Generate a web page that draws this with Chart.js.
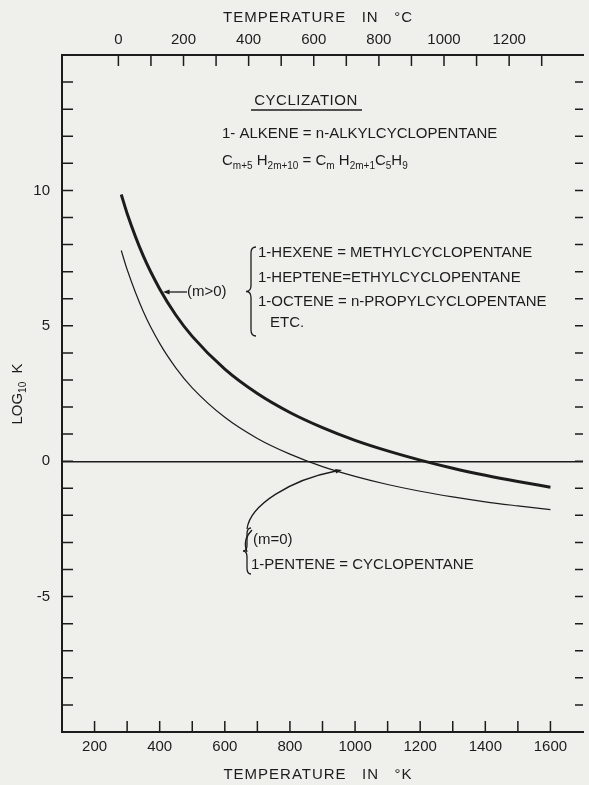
<!DOCTYPE html>
<html>
<head>
<meta charset="utf-8">
<script src="https://cdn.jsdelivr.net/npm/chart.js@4.4.1/dist/chart.umd.min.js"></script>
<style>
    html, body { margin: 0; padding: 0; background: #efefec; overflow: hidden; }
    #wrap { width: 589px; height: 785px; position: relative; }
</style>
</head>
<body>
<div id="wrap"><canvas id="cyclChart" width="589" height="785"></canvas></div>
<script>
// ====== Data ======
const tempK = [282, 300, 350, 400, 450, 500, 600, 700, 800, 900, 1000, 1100, 1200, 1300, 1400, 1500, 1600];
// (m>0)  1-hexene = methylcyclopentane, etc.  (heavy curve)
const logKAlkyl = [9.85, 9.15, 7.57, 6.36, 5.39, 4.61, 3.40, 2.50, 1.80, 1.24, 0.77, 0.38, 0.04, -0.26, -0.52, -0.75, -0.96];
// (m=0)  1-pentene = cyclopentane  (light curve)
const logKPentene = [7.78, 7.08, 5.52, 4.35, 3.44, 2.71, 1.62, 0.84, 0.26, -0.20, -0.56, -0.86, -1.11, -1.32, -1.50, -1.65, -1.79];

const kelvinLabels = [200, 400, 600, 800, 1000, 1200, 1400, 1600];
const celsiusLabels = [0, 200, 400, 600, 800, 1000, 1200];
const celsiusTicks = [0, 100, 200, 300, 400, 500, 600, 700, 800, 900, 1000, 1100, 1200, 1300];
const logLabels = [-5, 0, 5, 10];

const ink = '#1c1c1c';
const FONT = '"Liberation Sans", Arial, sans-serif';
const tickFont = { family: FONT, size: 15 };

// ====== Annotation helpers ======
function txt(ctx, s, x, y, size, align) {
    ctx.font = `${size || 15}px ${FONT}`;
    ctx.textAlign = align || 'left';
    ctx.textBaseline = 'middle';
    ctx.fillText(s, x, y);
}

function brace(ctx, x, top, bot, w) {
    const mid = (top + bot) / 2, r = 6;
    ctx.beginPath();
    ctx.moveTo(x + w, top);
    ctx.quadraticCurveTo(x + w / 2, top, x + w / 2, top + r);
    ctx.lineTo(x + w / 2, mid - r);
    ctx.quadraticCurveTo(x + w / 2, mid, x, mid);
    ctx.quadraticCurveTo(x + w / 2, mid, x + w / 2, mid + r);
    ctx.lineTo(x + w / 2, bot - r);
    ctx.quadraticCurveTo(x + w / 2, bot, x + w, bot);
    ctx.stroke();
}

function arrowHead(ctx, x, y, fromX, fromY) {
    const a = Math.atan2(y - fromY, x - fromX), L = 7;
    ctx.beginPath();
    ctx.moveTo(x, y);
    ctx.lineTo(x - L * Math.cos(a - 0.35), y - L * Math.sin(a - 0.35));
    ctx.lineTo(x - L * Math.cos(a + 0.35), y - L * Math.sin(a + 0.35));
    ctx.closePath();
    ctx.fill();
}

function subText(ctx, parts, x, y) {
    // parts: [text, isSub]
    ctx.textAlign = 'left';
    ctx.textBaseline = 'middle';
    parts.forEach(([s, sub]) => {
        ctx.font = `${sub ? 10 : 15}px ${FONT}`;
        ctx.fillText(s, x, sub ? y + 5 : y);
        x += ctx.measureText(s).width;
    });
}

// inward ticks + text annotations
const framePlugin = {
    id: 'frame',
    afterDraw(chart) {
        const { ctx, chartArea: a, scales } = chart;
        ctx.save();
        ctx.strokeStyle = ink;
        ctx.fillStyle = ink;
        ctx.lineWidth = 1.5;

        // inward tick marks
        ctx.beginPath();
        scales.x.ticks.forEach(t => {
            if (t.value <= 100 || t.value >= 1700) return;
            const px = scales.x.getPixelForValue(t.value);
            ctx.moveTo(px, a.bottom); ctx.lineTo(px, a.bottom - 11);
        });
        scales.xC.ticks.forEach(t => {
            const px = scales.xC.getPixelForValue(t.value);
            ctx.moveTo(px, a.top); ctx.lineTo(px, a.top + 11);
        });
        scales.y.ticks.forEach(t => {
            if (t.value <= -10 || t.value >= 15) return;
            const py = scales.y.getPixelForValue(t.value);
            ctx.moveTo(a.left, py); ctx.lineTo(a.left + 11, py);
            ctx.moveTo(a.right, py); ctx.lineTo(a.right - 8, py);
        });
        ctx.stroke();

        // axis titles
        ctx.letterSpacing = '1px';
        txt(ctx, 'TEMPERATURE   IN   °C', 318, 18, 15, 'center');
        txt(ctx, 'TEMPERATURE   IN   °K', 318, 775, 15, 'center');
        ctx.letterSpacing = '0px';

        ctx.save();
        ctx.translate(18, 394);
        ctx.rotate(-Math.PI / 2);
        ctx.font = `15px ${FONT}`;
        ctx.textBaseline = 'middle';
        ctx.textAlign = 'left';
        const w1 = ctx.measureText('LOG').width;
        ctx.font = `10px ${FONT}`;
        const w2 = ctx.measureText('10').width;
        ctx.font = `15px ${FONT}`;
        const w3 = ctx.measureText('  K').width;
        let sx = -(w1 + w2 + w3) / 2;
        ctx.fillText('LOG', sx, 0); sx += w1;
        ctx.font = `10px ${FONT}`;
        ctx.fillText('10', sx, 5); sx += w2;
        ctx.font = `15px ${FONT}`;
        ctx.fillText('  K', sx, 0);
        ctx.restore();

        // header
        ctx.letterSpacing = '0.5px';
        txt(ctx, 'CYCLIZATION', 306, 101, 15, 'center');
        ctx.letterSpacing = '0px';
        ctx.lineWidth = 1.3;
        ctx.beginPath(); ctx.moveTo(251, 110); ctx.lineTo(362, 110); ctx.stroke();

        txt(ctx, '1- ALKENE = n-ALKYLCYCLOPENTANE', 222, 134, 15);
        subText(ctx, [['C', 0], ['m+5', 1], [' H', 0], ['2m+10', 1], [' = ', 0], ['C', 0], ['m', 1], [' H', 0], ['2m+1', 1], ['C', 0], ['5', 1], ['H', 0], ['9', 1]], 222, 161);

        // m>0 group
        ctx.lineWidth = 1.3;
        brace(ctx, 246, 247, 336, 10);
        txt(ctx, '1-HEXENE = METHYLCYCLOPENTANE', 258, 253, 15);
        txt(ctx, '1-HEPTENE=ETHYLCYCLOPENTANE', 258, 278, 15);
        txt(ctx, '1-OCTENE = n-PROPYLCYCLOPENTANE', 258, 302, 15);
        txt(ctx, 'ETC.', 270, 323, 15);
        txt(ctx, '(m>0)', 187, 292, 15);
        ctx.beginPath(); ctx.moveTo(187, 292); ctx.lineTo(168, 292); ctx.stroke();
        arrowHead(ctx, 163, 292, 187, 292);

        // m=0 group
        brace(ctx, 243, 528, 574, 8);
        ctx.beginPath();
        ctx.moveTo(252, 530); ctx.quadraticCurveTo(242, 540, 247, 552);
        ctx.stroke();
        txt(ctx, '(m=0)', 253, 540, 15);
        txt(ctx, '1-PENTENE = CYCLOPENTANE', 251, 565, 15);
        ctx.beginPath();
        ctx.moveTo(247, 529);
        ctx.bezierCurveTo(250, 505, 290, 480, 336, 471);
        ctx.stroke();
        arrowHead(ctx, 342, 470, 290, 480);

        ctx.restore();
    }
};

// ====== Chart ======
new Chart(document.getElementById('cyclChart').getContext('2d'), {
    type: 'line',
    data: {
        datasets: [
            {
                label: '(m>0)',
                data: tempK.map((t, i) => ({ x: t, y: logKAlkyl[i] })),
                borderColor: ink, borderWidth: 3, pointRadius: 0,
                cubicInterpolationMode: 'monotone', fill: false
            },
            {
                label: '(m=0)',
                data: tempK.map((t, i) => ({ x: t, y: logKPentene[i] })),
                borderColor: ink, borderWidth: 1.2, pointRadius: 0,
                cubicInterpolationMode: 'monotone', fill: false
            }
        ]
    },
    options: {
        responsive: false,
        animation: false,
        devicePixelRatio: 1,
        layout: { padding: 0 },
        plugins: { legend: { display: false }, tooltip: { enabled: false } },
        scales: {
            x: {
                type: 'linear', position: 'bottom', min: 100, max: 1700,
                ticks: {
                    stepSize: 100, autoSkip: false, maxRotation: 0, padding: 6,
                    color: ink, font: tickFont,
                    callback: v => kelvinLabels.includes(v) ? String(v) : ''
                },
                grid: { display: false, drawTicks: false },
                border: { display: true, width: 2, color: ink },
                afterFit: s => { s.height = 53; }
            },
            xC: {
                type: 'linear', position: 'top', min: 100 - 273.15, max: 1700 - 273.15,
                afterBuildTicks: s => { s.ticks = celsiusTicks.map(v => ({ value: v })); },
                ticks: {
                    autoSkip: false, maxRotation: 0, padding: 6,
                    color: ink, font: tickFont,
                    callback: v => celsiusLabels.includes(v) ? String(v) : ''
                },
                grid: { display: false, drawTicks: false },
                border: { display: true, width: 2, color: ink },
                afterFit: s => { s.height = 55; }
            },
            y: {
                type: 'linear', position: 'left', min: -10, max: 15,
                ticks: {
                    stepSize: 1, autoSkip: false, padding: 12,
                    color: ink, font: tickFont,
                    callback: v => logLabels.includes(v) ? String(v) : ''
                },
                grid: {
                    drawTicks: false,
                    color: c => c.tick && c.tick.value === 0 ? ink : 'rgba(0,0,0,0)',
                    lineWidth: 1.4
                },
                border: { display: true, width: 2, color: ink },
                afterFit: s => { s.width = 62; }
            }
        }
    },
    plugins: [framePlugin]
});
</script>
</body>
</html>
